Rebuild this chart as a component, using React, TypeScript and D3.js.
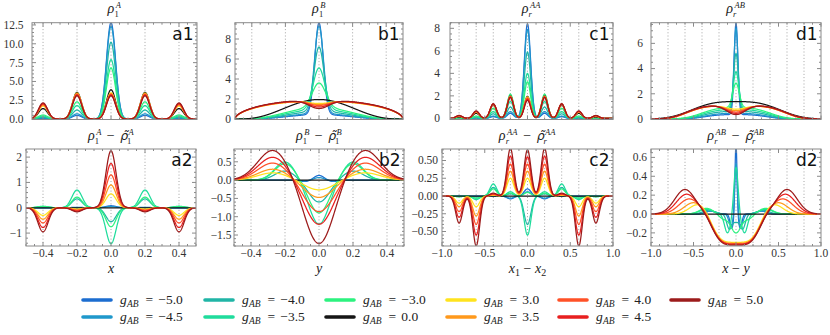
import React from 'react';
import * as d3 from 'd3';

// ---------------- series ----------------
const SERIES = [-5.0, -4.5, -4.0, -3.5, -3.0, 0.0, 3.0, 3.5, 4.0, 4.5, 5.0];
const COLORS = ['#1c6dd0', '#1f98cb', '#20b5a6', '#1fdc9c', '#2cf27f', '#151515', '#ffe31e', '#ff991c', '#ff5127', '#e81f1f', '#9c1b1b'];

// ---------------- a1: rho_1^A, peak heights at lattice sites 0, ±0.2, ±0.4 ----------------
const A1_SITE0 = [12.8, 12.3, 10.2, 7.9, 6.8, 3.9, 3.5, 3.4, 3.3, 3.2, 3.1];
const A1_SITE1 = [0.5, 0.7, 1.2, 1.8, 2.3, 3.55, 3.45, 3.4, 3.3, 3.2, 3.1];
const A1_SITE2 = [0.1, 0.15, 0.25, 0.4, 0.55, 1.4, 1.75, 1.85, 1.95, 2.05, 2.15];

// ---------------- a2: rho_1^A - tilde rho_1^A ----------------
const A2_SITE0 = [0.08, 0.05, -0.55, -1.42, -0.75, 0, 0.55, 0.9, 1.3, 1.75, 2.25];
const A2_SITE1 = [0.0, 0.02, 0.35, 0.7, 0.42, 0, -0.05, -0.08, -0.1, -0.13, -0.16];
const A2_SITE2 = [0.0, 0.0, 0.04, 0.06, 0.05, 0, -0.3, -0.45, -0.6, -0.78, -0.95];

// ---------------- b1: rho_1^B ----------------
const B1_BASE = [0.45, 0.55, 0.75, 0.95, 1.15, 1.95, 1.8, 1.82, 1.85, 1.87, 1.9];
const B1_POW = [4, 4, 3.8, 3.6, 3.4, 3.2, 0.55, 0.55, 0.55, 0.55, 0.55];
const B1_PEAK = [9.15, 8.75, 6.45, 4.15, 2.45, 0, 0, 0, 0, 0, 0];
const B1_PEAKW = [0.025, 0.027, 0.03, 0.035, 0.04, 0.04, 0.04, 0.04, 0.04, 0.04, 0.04];
const B1_DIP = [0, 0, 0, 0, 0, 0, 0.25, 0.37, 0.5, 0.67, 0.85];

// ---------------- b2: rho_1^B - tilde rho_1^B ----------------
const B2_HUMP = [-0.04, -0.02, 0.25, 0.5, 0.45, 0, 0.2, 0.3, 0.47, 0.63, 0.82];
const B2_HUMPPOS = [0.08, 0.08, 0.2, 0.2, 0.2, 0.27, 0.27, 0.27, 0.27, 0.27, 0.27];
const B2_HUMPW = [0.03, 0.03, 0.06, 0.06, 0.06, 0.09, 0.09, 0.09, 0.09, 0.09, 0.09];
const B2_CORE = [-0.13, -0.07, 0.6, 1.2, 0.9, 0, 0.27, 0.48, 0.87, 1.22, 1.75];
const B2_COREW = [0.03, 0.03, 0.06, 0.06, 0.06, 0.085, 0.085, 0.085, 0.085, 0.085, 0.085];

// ---------------- c1: rho_r^AA, peaks at 0, ±0.2, ±0.4, ±0.6, ±0.8 ----------------
const C1_SITE0 = [8.4, 7.9, 5.9, 4.0, 3.25, 1.95, 1.9, 1.85, 1.8, 1.7, 1.6];
const C1_SITE1 = [0.45, 0.6, 1.0, 1.5, 2.15, 2.0, 1.95, 1.95, 1.9, 1.9, 1.85];
const C1_SITE2 = [0.15, 0.2, 0.4, 0.6, 0.9, 1.2, 1.25, 1.25, 1.27, 1.28, 1.3];
const C1_SITE3 = [0.02, 0.03, 0.08, 0.12, 0.2, 0.45, 0.55, 0.58, 0.6, 0.63, 0.66];
const C1_SITE4 = [0, 0, 0.01, 0.02, 0.03, 0.12, 0.18, 0.2, 0.22, 0.24, 0.26];

// ---------------- c2: rho_r^AA - tilde rho_r^AA ----------------
const C2_SITE0 = [0.1, 0.06, -0.4, -0.55, 0.05, 0, 0.25, 0.35, 0.45, 0.55, 0.65];
const C2_SITE1 = [-0.04, -0.03, 0.03, 0.06, 0.04, 0, 0.25, 0.35, 0.45, 0.56, 0.67];
const C2_SITE2 = [0, 0, 0.12, 0.17, 0.1, 0, 0.01, 0.02, 0.02, 0.03, 0.04];
const C2_SITE3 = [0, 0, -0.03, -0.05, -0.03, 0, -0.15, -0.28, -0.4, -0.55, -0.7];
const C2_SITE4 = [0, 0, 0, -0.01, -0.01, 0, -0.1, -0.15, -0.22, -0.3, -0.38];

// ---------------- d1: rho_r^AB ----------------
const D1_ENV = [0.35, 0.45, 0.6, 0.75, 0.9, 1.38, 1.05, 1.06, 1.07, 1.08, 1.1];
const D1_W = [0.42, 0.42, 0.44, 0.45, 0.46, 0.6, 0.62, 0.62, 0.62, 0.63, 0.63];
const D1_N = [3, 3, 3, 3, 3, 3, 4, 4, 4, 4, 4];
const D1_PEAK = [7.25, 6.75, 4.6, 3.0, 1.95, 0, 0, 0, 0, 0, 0];
const D1_PEAKW = [0.022, 0.024, 0.028, 0.033, 0.038, 0.04, 0.04, 0.04, 0.04, 0.04, 0.04];
const D1_DIP = [0, 0, 0, 0, 0, 0, 0.27, 0.4, 0.52, 0.63, 0.75];

// ---------------- d2: rho_r^AB - tilde rho_r^AB ----------------
const D2_HUMP = [0.03, 0.03, 0.04, 0.05, 0.06, 0, 0.1, 0.12, 0.16, 0.21, 0.26];
const D2_HUMPPOS = [0.3, 0.3, 0.32, 0.35, 0.35, 0.4, 0.45, 0.5, 0.55, 0.58, 0.6];
const D2_HUMPW = [0.06, 0.06, 0.07, 0.08, 0.08, 0.1, 0.1, 0.11, 0.12, 0.12, 0.12];
const D2_CORE = [0.75, 0.55, -0.08, 0.5, -0.2, 0, 0, 0, 0, 0, 0];
const D2_COREW = [0.012, 0.015, 0.04, 0.025, 0.06, 0.05, 0.05, 0.05, 0.05, 0.05, 0.05];
const D2_SIDE = [-0.15, -0.12, -0.15, -0.2, -0.05, 0, 0, 0, 0, 0, 0];
const D2_SIDEPOS = [0.05, 0.06, 0.08, 0.1, 0.15, 0.1, 0.1, 0.1, 0.1, 0.1, 0.1];
const D2_SIDEW = [0.02, 0.025, 0.03, 0.035, 0.05, 0.03, 0.03, 0.03, 0.03, 0.03, 0.03];
const D2_TROUGH = [0, 0, 0, 0, 0, 0, -0.3, -0.31, -0.32, -0.32, -0.33];

// ---------------- ticks ----------------
const XT_AB = [-0.4, -0.2, 0, 0.2, 0.4];
const XT_CD = [-1, -0.5, 0, 0.5, 1];
const GRID_AB = [-0.4, -0.2, 0, 0.2, 0.4];
const GRID_CD = [-0.8, -0.6, -0.4, -0.2, 0, 0.2, 0.4, 0.6, 0.8];
const YT_A1 = [0, 2.5, 5, 7.5, 10, 12.5];
const YT_A2 = [-1, 0, 1, 2];
const YT_B1 = [0, 2, 4, 6, 8];
const YT_B2 = [-1.5, -1, -0.5, 0, 0.5];
const YT_C1 = [0, 2, 4, 6, 8];
const YT_C2 = [-0.5, -0.25, 0, 0.25, 0.5];
const YT_D1 = [0, 2, 4, 6];
const YT_D2 = [-0.2, 0, 0.2, 0.4, 0.6];

const G = (x: number, c: number, s: number) => Math.exp(-((x - c) * (x - c)) / (2 * s * s));
const pair = (x: number, c: number, s: number) => (c === 0 ? G(x, 0, s) : G(x, -c, s) + G(x, c, s));
const fmt = (v: number, d: number) => (v < 0 ? '\u2212' : '') + Math.abs(v).toFixed(d);

const SERIF = '"Liberation Serif", serif';
const SANS = '"DejaVu Sans", sans-serif';

// title as a single text element built from tspans
function Title({ cx, y, sub, sup, subItalic, diff }: any) {
  const RW = 7.4; // rho advance
  const supW = sup.length * 5.6;
  const partW = RW + 0.8 + Math.max(supW, 4.2);
  const gap = 5;
  const mw = 8.5;
  const total = diff ? partW * 2 + gap * 2 + mw : partW;
  const x0 = cx - total / 2;
  const part = (xs: number, tilde: boolean, k: string) => [
    tilde ? (
      <tspan key={k + 'r'} x={xs} y={y} fontStyle="italic" fontSize={12.5} style={{ fontFamily: SANS }}>
        {'\u03C1\u0303'}
      </tspan>
    ) : (
      <tspan key={k + 'r'} x={xs} y={y} fontStyle="italic" fontSize={14}>ρ</tspan>
    ),
    <tspan key={k + 'b'} x={xs + RW - 0.6} y={y + 4} fontSize={8.5} fontStyle={subItalic ? 'italic' : 'normal'}>{sub}</tspan>,
    <tspan key={k + 'p'} x={xs + RW + 0.8} y={y - 4.6} fontSize={8.5} fontStyle="italic">{sup}</tspan>,
  ];
  return (
    <text fill="#222" style={{ fontFamily: SERIF }}>
      {part(x0, false, 'a')}
      {diff ? <tspan x={x0 + partW + gap} y={y} fontSize={14}>{'\u2212'}</tspan> : null}
      {diff ? part(x0 + partW + gap * 2 + mw, true, 'b') : null}
    </text>
  );
}

function Panel({ p }: any) {
  const x = d3.scaleLinear().domain(p.xlim).range([p.l, p.r]);
  const y = d3.scaleLinear().domain(p.ylim).range([p.b, p.t]);
  const N = 700;
  const xs = d3.range(N + 1).map((k) => p.xlim[0] + ((p.xlim[1] - p.xlim[0]) * k) / N);
  const line = d3
    .line<[number, number]>()
    .x((d) => x(d[0]))
    .y((d) => y(d[1]));
  const minorX = d3
    .range(Math.ceil(p.xlim[0] / p.xminor - 1e-6), Math.floor(p.xlim[1] / p.xminor + 1e-6) + 1)
    .map((k) => k * p.xminor)
    .filter((v) => !p.xt.some((t: number) => Math.abs(t - v) < 1e-6));
  const minorY = d3
    .range(Math.ceil(p.ylim[0] / p.yminor - 1e-6), Math.floor(p.ylim[1] / p.yminor + 1e-6) + 1)
    .map((k) => k * p.yminor)
    .filter((v) => !p.yt.some((t: number) => Math.abs(t - v) < 1e-6));
  const tc = '#8a8a8a';
  const cid = 'clip-' + p.key;
  const cx = (p.l + p.r) / 2;
  return (
    <g>
      <defs>
        <clipPath id={cid}>
          <rect x={p.l} y={p.t} width={p.r - p.l} height={p.b - p.t} />
        </clipPath>
      </defs>
      {p.grid.map((g: number) => (
        <line key={'g' + g} x1={x(g)} x2={x(g)} y1={p.t} y2={p.b} stroke="#9a9a9a" strokeWidth={0.9} strokeDasharray="1,2.2" />
      ))}
      <g clipPath={`url(#${cid})`}>
        {SERIES.map((s, i) => (
          <path
            key={'c' + i}
            d={line(xs.map((v) => [v, p.f(v, i)] as [number, number])) || ''}
            fill="none"
            stroke={COLORS[i]}
            strokeWidth={1.25}
          />
        ))}
      </g>
      <rect x={p.l} y={p.t} width={p.r - p.l} height={p.b - p.t} fill="none" stroke={tc} strokeWidth={1} />
      {p.xt.filter((v: number) => v >= p.xlim[0] - 1e-9 && v <= p.xlim[1] + 1e-9).map((v: number) => (
        <g key={'xt' + v}>
          <line x1={x(v)} x2={x(v)} y1={p.b} y2={p.b - 4} stroke={tc} />
          <line x1={x(v)} x2={x(v)} y1={p.t} y2={p.t + 4} stroke={tc} />
        </g>
      ))}
      {minorX.map((v: number) => (
        <g key={'xm' + v}>
          <line x1={x(v)} x2={x(v)} y1={p.b} y2={p.b - 2} stroke={tc} />
          <line x1={x(v)} x2={x(v)} y1={p.t} y2={p.t + 2} stroke={tc} />
        </g>
      ))}
      {p.yt.map((v: number) => (
        <g key={'yt' + v}>
          <line x1={p.l} x2={p.l + 4} y1={y(v)} y2={y(v)} stroke={tc} />
          <line x1={p.r} x2={p.r - 4} y1={y(v)} y2={y(v)} stroke={tc} />
        </g>
      ))}
      {minorY.map((v: number) => (
        <g key={'ym' + v}>
          <line x1={p.l} x2={p.l + 2} y1={y(v)} y2={y(v)} stroke={tc} />
          <line x1={p.r} x2={p.r - 2} y1={y(v)} y2={y(v)} stroke={tc} />
        </g>
      ))}
      {p.yt.map((v: number, k: number) => (
        <text key={'yl' + v} x={p.ylabX} y={y(v)} dy="0.34em" textAnchor="end" fontSize={11.5} style={{ fontFamily: SERIF }} fill="#333">
          {p.ytl[k]}
        </text>
      ))}
      {p.xtl
        ? p.xt.map((v: number, k: number) => (
            <text key={'xl' + v} x={x(v)} y={p.b + 11.3} textAnchor="middle" fontSize={11.5} style={{ fontFamily: SERIF }} fill="#333">
              {p.xtl[k]}
            </text>
          ))
        : null}
      <text x={p.r - 3.5} y={p.t + 16.8} textAnchor="end" fontSize={17} style={{ fontFamily: SANS }} fill="#111">
        {p.tag}
      </text>
      <Title cx={cx} y={p.titleY} sub={p.tsub} sup={p.tsup} subItalic={p.tsubItalic} diff={p.diff} />
      {p.xlabel}
    </g>
  );
}

export default function App() {
  const row1 = { t: 22.7, b: 119.5, titleY: 13 };
  const row2 = { t: 149, b: 246, titleY: 139.5 };
  const xlAB = XT_AB.map((v) => fmt(v, 1));
  const xlCD = XT_CD.map((v) => fmt(v, 1));
  const xlabY = 273;
  const sty = { fontFamily: SERIF };

  const panels = [
    {
      key: 'a1', tag: 'a1', l: 32, r: 197, ...row1, xlim: [-0.465, 0.506], ylim: [-0.05, 12.8],
      xt: XT_AB, xtl: null, xminor: 0.05, yt: YT_A1, ytl: YT_A1.map((v) => fmt(v, 1)), yminor: 0.5,
      ylabX: 23.5, grid: GRID_AB, tsub: '1', tsup: 'A', diff: false,
      f: (v: number, i: number) => A1_SITE0[i] * G(v, 0, 0.027) + A1_SITE1[i] * pair(v, 0.2, 0.027) + A1_SITE2[i] * pair(v, 0.4, 0.027),
    },
    {
      key: 'b1', tag: 'b1', l: 235, r: 403, ...row1, xlim: [-0.5, 0.5], ylim: [-0.05, 9.63],
      xt: XT_AB, xtl: null, xminor: 0.05, yt: YT_B1, ytl: YT_B1.map((v) => fmt(v, 0)), yminor: 0.5,
      ylabX: 231, grid: GRID_AB, tsub: '1', tsup: 'B', diff: false,
      f: (v: number, i: number) =>
        B1_BASE[i] * Math.pow(Math.max(0, 1 - 4 * v * v), B1_POW[i]) + B1_PEAK[i] * G(v, 0, B1_PEAKW[i]) - B1_DIP[i] * G(v, 0, 0.06),
    },
    {
      key: 'c1', tag: 'c1', l: 450, r: 613, ...row1, xlim: [-0.906, 1.0], ylim: [-0.1, 8.5],
      xt: XT_CD, xtl: null, xminor: 0.1, yt: YT_C1, ytl: YT_C1.map((v) => fmt(v, 0)), yminor: 0.5,
      ylabX: 440, grid: GRID_CD, tsub: 'r', tsup: 'AA', tsubItalic: true, diff: false,
      f: (v: number, i: number) =>
        C1_SITE0[i] * G(v, 0, 0.037) + C1_SITE1[i] * pair(v, 0.2, 0.037) + C1_SITE2[i] * pair(v, 0.4, 0.037) +
        C1_SITE3[i] * pair(v, 0.6, 0.037) + C1_SITE4[i] * pair(v, 0.8, 0.037),
    },
    {
      key: 'd1', tag: 'd1', l: 651, r: 821, ...row1, xlim: [-1, 1], ylim: [-0.04, 7.64],
      xt: XT_CD, xtl: null, xminor: 0.1, yt: YT_D1, ytl: YT_D1.map((v) => fmt(v, 0)), yminor: 0.5,
      ylabX: 643, grid: GRID_CD, tsub: 'r', tsup: 'AB', tsubItalic: true, diff: false,
      f: (v: number, i: number) =>
        D1_ENV[i] * Math.exp(-Math.pow(Math.abs(v) / D1_W[i], D1_N[i])) + D1_PEAK[i] * G(v, 0, D1_PEAKW[i]) - D1_DIP[i] * G(v, 0, 0.11),
    },
    {
      key: 'a2', tag: 'a2', l: 26, r: 196, ...row2, xlim: [-0.5, 0.5], ylim: [-1.51, 2.32],
      xt: XT_AB, xtl: xlAB, xminor: 0.05, yt: YT_A2, ytl: YT_A2.map((v) => fmt(v, 0)), yminor: 0.2,
      ylabX: 22, grid: GRID_AB, tsub: '1', tsup: 'A', diff: true,
      f: (v: number, i: number) => A2_SITE0[i] * G(v, 0, 0.03) + A2_SITE1[i] * pair(v, 0.2, 0.03) + A2_SITE2[i] * pair(v, 0.4, 0.03),
      xlabel: <text x={111} y={xlabY} textAnchor="middle" fontSize={14} fontStyle="italic" style={sty} fill="#222">x</text>,
    },
    {
      key: 'b2', tag: 'b2', l: 234, r: 404, ...row2, xlim: [-0.5, 0.5], ylim: [-1.8, 0.85],
      xt: XT_AB, xtl: xlAB, xminor: 0.05, yt: YT_B2, ytl: YT_B2.map((v) => fmt(v, 1)), yminor: 0.1,
      ylabX: 231.5, grid: GRID_AB, tsub: '1', tsup: 'B', diff: true,
      f: (v: number, i: number) => B2_HUMP[i] * pair(v, B2_HUMPPOS[i], B2_HUMPW[i]) - B2_CORE[i] * G(v, 0, B2_COREW[i]),
      xlabel: <text x={319} y={xlabY} textAnchor="middle" fontSize={14} fontStyle="italic" style={sty} fill="#222">y</text>,
    },
    {
      key: 'c2', tag: 'c2', l: 442, r: 613, ...row2, xlim: [-1, 1], ylim: [-0.704, 0.662],
      xt: XT_CD, xtl: xlCD, xminor: 0.1, yt: YT_C2, ytl: YT_C2.map((v) => fmt(v, 2)), yminor: 0.05,
      ylabX: 438, grid: GRID_CD, tsub: 'r', tsup: 'AA', tsubItalic: true, diff: true,
      f: (v: number, i: number) =>
        C2_SITE0[i] * G(v, 0, 0.04) + C2_SITE1[i] * pair(v, 0.2, 0.04) + C2_SITE2[i] * pair(v, 0.4, 0.04) +
        C2_SITE3[i] * pair(v, 0.6, 0.04) + C2_SITE4[i] * pair(v, 0.8, 0.04),
      xlabel: (
        <text x={527.5} y={xlabY} textAnchor="middle" fontSize={14} style={sty} fill="#222">
          <tspan fontStyle="italic">x</tspan>
          <tspan fontSize={10} dy={3}>1</tspan>
          <tspan dy={-3}> {'\u2212'} </tspan>
          <tspan fontStyle="italic">x</tspan>
          <tspan fontSize={10} dy={3}>2</tspan>
        </text>
      ),
    },
    {
      key: 'd2', tag: 'd2', l: 651, r: 821, ...row2, xlim: [-1, 1], ylim: [-0.339, 0.689],
      xt: XT_CD, xtl: xlCD, xminor: 0.1, yt: YT_D2, ytl: YT_D2.map((v) => fmt(v, 1)), yminor: 0.05,
      ylabX: 647, grid: GRID_CD, tsub: 'r', tsup: 'AB', tsubItalic: true, diff: true,
      f: (v: number, i: number) =>
        D2_HUMP[i] * pair(v, D2_HUMPPOS[i], D2_HUMPW[i]) + D2_CORE[i] * G(v, 0, D2_COREW[i]) +
        D2_SIDE[i] * pair(v, D2_SIDEPOS[i], D2_SIDEW[i]) + D2_TROUGH[i] * Math.exp(-Math.pow(Math.abs(v) / 0.3, 4)),
      xlabel: (
        <text x={736} y={xlabY} textAnchor="middle" fontSize={14} style={sty} fill="#222">
          <tspan fontStyle="italic">x</tspan>
          <tspan> {'\u2212'} </tspan>
          <tspan fontStyle="italic">y</tspan>
        </text>
      ),
    },
  ];

  const legendCols = [83, 205, 326, 447, 559, 671];
  const legendRows = [300, 317];

  return (
    <svg width={830} height={335} style={{ position: 'absolute', left: 0, top: 0, background: '#fff', fontFamily: SERIF }}>
      <rect x={0} y={0} width={830} height={335} fill="#fff" />
      {panels.map((p) => (
        <Panel key={p.key} p={p} />
      ))}
      {SERIES.map((s, i) => {
        const cx0 = legendCols[Math.floor(i / 2)];
        const cy = legendRows[i % 2];
        const tx = cx0 + 37;
        return (
          <g key={'lg' + i}>
            <line x1={cx0} x2={cx0 + 28} y1={cy} y2={cy} stroke={COLORS[i]} strokeWidth={3.6} strokeLinecap="round" />
            <text fill="#222" fontSize={13.5} style={sty}>
              <tspan x={tx} y={cy + 4} fontStyle="italic">g</tspan>
              <tspan x={tx + 7} y={cy + 7} fontSize={9.5} fontStyle="italic">AB</tspan>
              <tspan x={tx + 25.5} y={cy + 4}>=</tspan>
              <tspan x={tx + 38.3} y={cy + 4}>{fmt(s, 1)}</tspan>
            </text>
          </g>
        );
      })}
    </svg>
  );
}
